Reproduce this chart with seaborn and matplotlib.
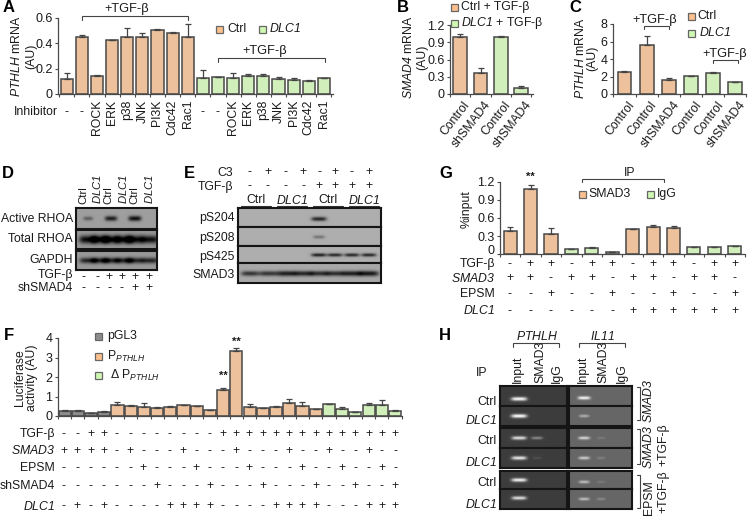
import numpy as np
import pandas as pd
import matplotlib
matplotlib.use('Agg')
import matplotlib.pyplot as plt
import seaborn as sns

W, H = 756, 516
ORANGE = '#FBC08D'
GREEN = '#CFF8B2'
GREY = '#8C8C8C'
AXC = '#4a4a4a'
TXT = '#1a1a1a'
FS = 8.8

# panel A
a_labels = ['-', '-', 'ROCK', 'ERK', 'p38', 'JNK', 'PI3K', 'Cdc42', 'Rac1',
            '-', '-', 'ROCK', 'ERK', 'p38', 'JNK', 'PI3K', 'Cdc42', 'Rac1']
a_vals = [0.12, 0.445, 0.145, 0.42, 0.45, 0.445, 0.505, 0.48, 0.45,
          0.125, 0.13, 0.125, 0.14, 0.14, 0.12, 0.11, 0.1, 0.125]
a_errs = [0.045, 0.015, 0.003, 0.005, 0.065, 0.03, 0.002, 0.005, 0.1,
          0.06, 0.002, 0.04, 0.02, 0.015, 0.012, 0.015, 0.008, 0.003]
a_groups = ['o'] * 9 + ['g'] * 9

# panel B
b_labels = ['Control', 'shSMAD4', 'Control', 'shSMAD4']
b_vals = [1.0, 0.36, 1.0, 0.11]
b_errs = [0.04, 0.1, 0.01, 0.03]
b_groups = ['o', 'o', 'g', 'g']

# panel C
c_labels = ['Control', 'Control', 'shSMAD4', 'Control', 'Control', 'shSMAD4']
c_vals = [2.5, 5.6, 1.6, 2.05, 2.4, 1.35]
c_errs = [0.1, 1.0, 0.2, 0.05, 0.08, 0.03]
c_groups = ['o', 'o', 'o', 'g', 'g', 'g']

# panel F
f_vals = [0.28, 0.26, 0.14, 0.2, 0.58, 0.52, 0.46, 0.4, 0.46, 0.55, 0.5, 0.3, 1.32,
          3.35, 0.46, 0.4, 0.45, 0.66, 0.52, 0.34, 0.6, 0.36, 0.18, 0.56, 0.55, 0.28]
f_errs = [0.03, 0.03, 0.01, 0.04, 0.12, 0.03, 0.22, 0.04, 0.03, 0.03, 0.02, 0.03, 0.1,
          0.13, 0.15, 0.02, 0.07, 0.2, 0.2, 0.03, 0.04, 0.12, 0.02, 0.12, 0.28, 0.02]
f_groups = ['k'] * 4 + ['o'] * 16 + ['g'] * 6
f_rows = {
    'TGF-β': '--++--------++++++++++++++',
    r'$\mathit{SMAD3}$': '++++-+---+---+---+--+--+--',
    'EPSM': '------+---+---+---+--+--+-',
    'shSMAD4': '-------+---+---+---+--+--+',
    r'$\mathit{DLC1}$': '-+-+----++++----++++---+++',
}
f_row_y = [434, 451, 468, 486, 506]

# panel G
g_vals = [0.38, 1.07, 0.34, 0.08, 0.11, 0.04, 0.42, 0.45, 0.44, 0.12, 0.12, 0.13]
g_errs = [0.07, 0.08, 0.09, 0.01, 0.005, 0.005, 0.005, 0.03, 0.03, 0.005, 0.005, 0.01]
g_groups = ['o', 'o', 'o', 'g', 'g', 'g', 'o', 'o', 'o', 'g', 'g', 'g']
g_rows = {
    'TGF-β': '-++-++-++-++',
    r'$\mathit{SMAD3}$': '++-++-++-++-',
    'EPSM': '--+--+--+--+',
    r'$\mathit{DLC1}$': '------++++++',
}
g_row_y = [264, 278, 294, 311]

# blots, band strength per lane
d_active = [0.45, 0, 0.9, 0, 1.0, 0]
d_total = [1, 1, 1, 1, 1, 0.95]
d_gapdh = [0.9, 0.9, 0.9, 0.9, 0.9, 0.9]
e_s204 = [0, 0, 0, 0, 0.9, 0, 0, 0]
e_s208 = [0, 0, 0, 0, 0.4, 0, 0, 0]
e_s425 = [0, 0, 0, 0, 0.9, 0.85, 0.85, 0.85]
e_smad3 = [0.8, 0.8, 0.95, 0.9, 0.85, 0.85, 0.95, 1.0]
h_left = [[1, 0], [1, 0], [0.85, 0.4], [0.9, 0.1], [0.95, 0], [0.85, 0]]
h_right = [[0.95, 0], [0.5, 0], [0.75, 0.15], [0.7, 0.2], [0.6, 0.15], [0.6, 0.25]]

sns.set_theme(style='white')
plt.rcParams['font.family'] = ['Liberation Sans', 'DejaVu Sans']
plt.rcParams['mathtext.fontset'] = 'custom'
# digits inside math fall back to rm, so rm is italic too (gene names only)
plt.rcParams['mathtext.rm'] = 'Liberation Sans:italic'
plt.rcParams['mathtext.it'] = 'Liberation Sans:italic'
plt.rcParams['mathtext.bf'] = 'Liberation Sans:bold'

fig = plt.figure(figsize=(W / 100, H / 100), dpi=100)
palette = {'o': ORANGE, 'g': GREEN, 'k': GREY}


def box_axes(x0, y0, x1, y1, **kw):
    return fig.add_axes([x0 / W, 1 - y1 / H, (x1 - x0) / W, (y1 - y0) / H], **kw)


def bar_panel(x0, x1, y_top, y_zero, first, step, vals, errs, groups, ymax, yticks, yticklabels, width):
    ax = box_axes(x0, y_top, x1, y_zero)
    df = pd.DataFrame({'pos': range(len(vals)), 'val': vals, 'group': groups})
    sns.barplot(data=df, x='pos', y='val', hue='group', palette=palette, dodge=False, width=width,
                edgecolor='#484848', linewidth=1.1, errorbar=None, legend=False, ax=ax)
    ax.errorbar(df['pos'], df['val'], yerr=[np.zeros(len(vals)), errs], fmt='none',
                ecolor='#444444', elinewidth=0.9, capsize=2.2, capthick=0.9)
    ax.set_xlim((x0 - first) / step, (x1 - first) / step)
    ax.set_ylim(0, ymax)
    ax.set_yticks(yticks)
    ax.set_yticklabels(yticklabels, fontsize=FS + 0.2, color=TXT)
    ax.set_xticks(np.arange(len(vals) + 1) - 0.5)
    ax.set_xticklabels([])
    ax.tick_params(axis='both', length=2.5, width=0.8, color=AXC, pad=1.5, bottom=True, left=True)
    ax.set_xlabel('')
    ax.set_ylabel('')
    for side in ['top', 'right']:
        ax.spines[side].set_visible(False)
    for side in ['left', 'bottom']:
        ax.spines[side].set_color(AXC)
        ax.spines[side].set_linewidth(0.9)
    ax.patch.set_alpha(0)
    return ax


def gel(box, centers, strengths, bg, ink, half_w, half_h, yc=None):
    x0, y0, x1, y1 = box
    ax = box_axes(x0, y0, x1, y1)
    xs, ys = np.meshgrid(np.linspace(x0, x1, int((x1 - x0) * 2)), np.linspace(y0, y1, int((y1 - y0) * 2)))
    img = np.full(xs.shape, float(bg))
    mid = (y0 + y1) / 2 if yc is None else yc
    for c, s in zip(centers, strengths):
        shape = np.exp(-((xs - c) / (half_w * (0.55 + 0.45 * s))) ** 4 - ((ys - mid) / (half_h * (0.6 + 0.4 * s))) ** 2)
        img += s * (ink - bg) * shape
    ax.imshow(np.clip(img, 0, 1), cmap='gray', vmin=0, vmax=1, extent=(x0, x1, y1, y0), aspect='auto', interpolation='bilinear')
    ax.set_xticks([])
    ax.set_yticks([])
    for sp in ax.spines.values():
        sp.set_color('#151515')
        sp.set_linewidth(1.5)
    return ax


# bars
bar_panel(58, 333, 17.5, 94, 66.7, 15.13, a_vals, a_errs, a_groups, 0.6,
          [0, 0.2, 0.4, 0.6], ['0', '0.2', '0.4', '0.6'], 0.8)
bar_panel(450, 533, 25, 94, 460, 20.4, b_vals, b_errs, b_groups, 1.2,
          [0, 0.3, 0.6, 0.9, 1.2], ['0', '0.3', '0.6', '0.9', '1.2'], 0.68)
bar_panel(613, 746, 24, 94, 624.5, 22.1, c_vals, c_errs, c_groups, 8,
          [0, 2, 4, 6, 8], ['0', '2', '4', '6', '8'], 0.63)
bar_panel(58, 402, 338, 416, 64, 13.24, f_vals, f_errs, f_groups, 4,
          [0, 1, 2, 3, 4], ['0', '1', '2', '3', '4'], 0.92)
# the 0 of G is drawn with the G text, a little above its tick as in the original
bar_panel(500, 745, 181.5, 254.3, 510, 20.43, g_vals, g_errs, g_groups, 1.2,
          [0, 0.3, 0.6, 0.9, 1.2], ['', '0.3', '0.6', '0.9', '1.2'], 0.64)

# blots
d_lanes = [88, 100, 111, 124, 135, 150]
gel((76, 208, 157, 229), d_lanes, d_active, 0.62, 0.05, 6.5, 2.6, yc=218.5)
gel((76, 230, 157, 249), d_lanes, d_total, 0.6, 0.02, 9, 4)
gel((76, 251, 157, 270), d_lanes, d_gapdh, 0.6, 0.08, 9, 3)
e_lanes = [250, 268, 286, 303, 319, 335, 352, 369]
gel((238, 208, 381, 227), e_lanes, e_s204, 0.68, 0.08, 8, 2.2, yc=219)
gel((238, 227, 381, 246), e_lanes, e_s208, 0.68, 0.1, 8, 2.2, yc=237)
gel((238, 246, 381, 263), e_lanes, e_s425, 0.68, 0.05, 8, 1.8, yc=255)
gel((238, 263, 381, 283), e_lanes, e_smad3, 0.66, 0.08, 10, 2.6, yc=274)

h_boxes = [(386, 406), (406, 426), (428, 448), (448, 468), (471, 489), (489, 509)]
h_band_l = [399, 416, 438, 458, 480, 498]
h_band_r = [398, 416, 438, 458, 482, 499]
for i, (t, b) in enumerate(h_boxes):
    gel((500, t, 567, b), [519, 537], h_left[i], 0.24, 1.0, 8, 1.9, yc=h_band_l[i])
    gel((569, t, 632, b), [584, 601], h_right[i], 0.4, 1.0, 6.5, 1.7, yc=h_band_r[i])

# full-figure layer for text and brackets
ov = box_axes(0, 0, W, H, zorder=10)
ov.set_xlim(0, W)
ov.set_ylim(H, 0)
ov.axis('off')


def label(x, y, s, ha='center', rot=0, fs=FS, **kw):
    kw.setdefault('color', TXT)
    ov.text(x, y, s, ha=ha, va='center', rotation=rot, fontsize=fs, rotation_mode='anchor', **kw)


def bracket(x0, x1, y, drop=4, color='#444444'):
    ov.plot([x0, x0, x1, x1], [y + drop, y, y, y + drop], color=color, lw=0.8, solid_joinstyle='miter')


def swatch(x, y, color):
    ov.add_patch(plt.Rectangle((x - 3.5, y - 3.5), 7, 7, facecolor=color, edgecolor='#666666', lw=0.9))


for s, x, y in [('A', 3, 8), ('B', 397, 8), ('C', 569, 8), ('D', 2, 173), ('E', 184, 173),
                ('F', 4, 335), ('G', 439, 174), ('H', 439, 335)]:
    ov.text(x, y, s, ha='left', va='center', fontsize=12, fontweight='bold', color='black')

# A text
for i, s in enumerate(a_labels):
    x = 66.7 + 15.13 * i
    if s == '-':
        label(x, 112, s)
    else:
        ov.text(x, 100, s, ha='center', va='top', rotation=90, fontsize=FS, color=TXT)
label(14, 112, 'Inhibitor', ha='left')
label(17, 56, r'$\mathit{PTHLH}$ mRNA', rot=90)
label(31, 56, '(AU)', rot=90)
label(127, 9, '+TGF-β', fs=9.2)
bracket(82, 188, 16)
label(265, 51, '+TGF-β', fs=9.2)
bracket(218, 325, 58)
swatch(219, 29, ORANGE)
label(227, 29, 'Ctrl', ha='left')
swatch(262, 29, GREEN)
label(269, 29, r'$\mathit{DLC1}$', ha='left')

# B text
for i, s in enumerate(b_labels):
    ov.text(463 + 20.4 * i, 99, s, ha='right', va='top', rotation=52, rotation_mode='anchor', fontsize=FS, color=TXT)
label(408, 57, r'$\mathit{SMAD4}$ mRNA', rot=90)
label(422, 57, '(AU)', rot=90)
swatch(454, 7, ORANGE)
label(461, 7, 'Ctrl + TGF-β', ha='left')
swatch(454, 23, GREEN)
label(461, 23, r'$\mathit{DLC1}$ + TGF-β', ha='left')

# C text
for i, s in enumerate(c_labels):
    ov.text(628 + 22.1 * i, 99, s, ha='right', va='top', rotation=52, rotation_mode='anchor', fontsize=FS, color=TXT)
label(580, 58, r'$\mathit{PTHLH}$ mRNA', rot=90)
label(592, 58, '(AU)', rot=90)
label(655, 20, '+TGF-β', fs=9.2)
bracket(644, 669, 26, drop=3)
label(725, 54, '+TGF-β', fs=9.2)
bracket(713, 738, 60, drop=3)
swatch(691, 16, ORANGE)
label(697, 16, 'Ctrl', ha='left')
swatch(691, 33, GREEN)
label(699, 33, r'$\mathit{DLC1}$', ha='left')

# D text
for x, s in zip([83, 97, 108, 123, 134, 149], ['Ctrl', r'$\mathit{DLC1}$'] * 3):
    ov.text(x, 204, s, ha='center', va='bottom', rotation=90, fontsize=FS - 0.6, color=TXT)
label(73, 219, 'Active RHOA', ha='right')
label(73, 239, 'Total RHOA', ha='right')
label(73, 260, 'GAPDH', ha='right')
label(73, 275, 'TGF-β', ha='right')
label(73, 288, 'shSMAD4', ha='right')
for x, t, sh in zip([83, 97, 109, 122, 135, 149], '--++++', '----++'):
    label(x, 277, t)
    label(x, 288, sh)

# E text
label(233, 173, 'C3', ha='right')
label(233, 187, 'TGF-β', ha='right')
for x, c3, t in zip(e_lanes, '-+-+-+-+', '----++++'):
    label(x, 172, c3)
    label(x, 186, t)
for x0, x1, s in [(241, 271, 'Ctrl'), (277, 307, r'$\mathit{DLC1}$'), (313, 343, 'Ctrl'), (349, 379, r'$\mathit{DLC1}$')]:
    label((x0 + x1) / 2, 200, s)
    ov.plot([x0, x1], [206, 206], color='#333333', lw=0.8)
for y, s in [(218, 'pS204'), (238, 'pS208'), (257, 'pS425'), (275, 'SMAD3')]:
    label(235, y, s, ha='right')

# F text
label(20, 378, 'Luciferase', rot=90)
label(32, 378, 'activity (AU)', rot=90)
swatch(98, 336, GREY)
label(107, 336, 'pGL3', ha='left')
swatch(98, 356, ORANGE)
label(107, 356, r'P$_{\mathit{PTHLH}}$', ha='left')
swatch(98, 375, GREEN)
label(110, 375, r'Δ P$_{\mathit{PTHLH}}$', ha='left')
label(223, 376, '**', fontweight='bold', fs=8)
label(236, 342, '**', fontweight='bold', fs=8)
for (name, signs), y in zip(f_rows.items(), f_row_y):
    label(55, y, name, ha='right')
    for i, c in enumerate(signs):
        label(64 + 13.24 * i, y, c)

# G text
label(494.5, 251, '0', ha='right', fs=FS + 0.2)
label(467, 209, '%input', rot=90)
label(530, 177, '**', fontweight='bold', fs=8)
label(630, 173, 'IP')
bracket(582, 664, 179, drop=3)
swatch(582, 194, ORANGE)
label(588, 194, 'SMAD3', ha='left')
swatch(650, 194, GREEN)
label(657, 194, 'IgG', ha='left')
for (name, signs), y in zip(g_rows.items(), g_row_y):
    label(495, y, name, ha='right')
    for i, c in enumerate(signs):
        label(510 + 20.43 * i, y, c)

# H text
label(537, 336, r'$\mathit{PTHLH}$')
bracket(513, 559, 343)
label(602, 336, r'$\mathit{IL11}$')
bracket(579, 625, 343)
for x, s in [(518, 'Input'), (540, 'SMAD3'), (557, 'IgG'), (583, 'Input'), (603, 'SMAD3'), (622, 'IgG')]:
    ov.text(x, 383, s, ha='center', va='bottom', rotation=90, fontsize=FS, color=TXT)
label(482, 373, 'IP')
for y, s in zip([402, 420, 441, 462, 483, 504], ['Ctrl', r'$\mathit{DLC1}$'] * 3):
    label(497, y, s, ha='right')
for t, b in [(387, 420), (429, 464), (475, 508)]:
    ov.plot([637, 640, 640, 637], [t, t, b, b], color='#444444', lw=0.8)
label(649, 401, r'$\mathit{SMAD3}$', rot=90)
label(649, 447, r'$\mathit{SMAD3}$', rot=90)
label(663, 445, '+TGF-β', rot=90)
label(649, 498, 'EPSM', rot=90)
label(663, 492, '+TGF-β', rot=90)

fig.savefig('out.png', dpi=100)
